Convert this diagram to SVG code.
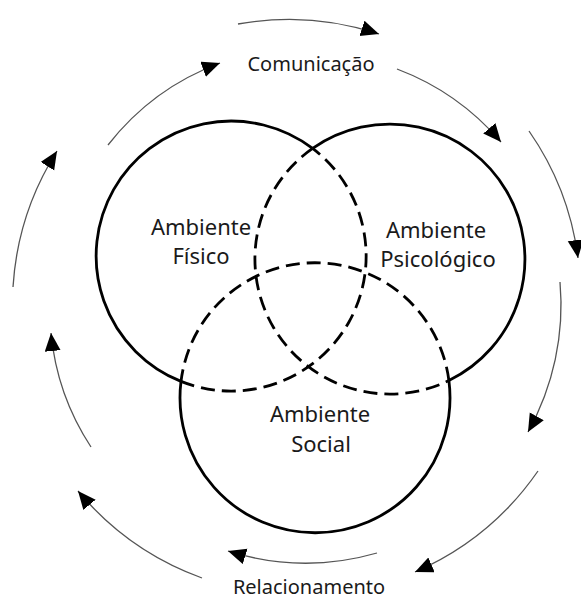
<svg xmlns="http://www.w3.org/2000/svg" width="581" height="599" viewBox="0 0 581 599">
<style>
.solid{fill:none;stroke:#000;stroke-width:2.8}
.dash{fill:none;stroke:#000;stroke-width:2.8;stroke-dasharray:14 7}
.lbl{font-family:"Noto Sans","Open Sans",sans-serif;font-size:22px;fill:#1a1a1a;text-anchor:middle}
.cap{font-family:"Noto Sans","Open Sans",sans-serif;font-size:20px;fill:#1a1a1a;text-anchor:middle}
.flow{fill:none;stroke:#555;stroke-width:1.3;marker-end:url(#ah)}
</style>
<defs>
<marker id="ah" markerUnits="userSpaceOnUse" markerWidth="20" markerHeight="18" refX="18" refY="8" orient="auto">
<path d="M0,0 L18,8 L0,16 z" fill="#000"/>
</marker>
</defs>
<rect width="581" height="599" fill="#fff"/>
<g id="connectors">
<path class="flow" d="M238,24 A285,285 0 0 1 379,34"/>
<path class="flow" d="M108,145 A254,254 0 0 1 220,63"/>
<path class="flow" d="M397,69 A256,256 0 0 1 501,142"/>
<path class="flow" d="M529,131 A286,286 0 0 1 578,258"/>
<path class="flow" d="M560,282 A261,261 0 0 1 528,432"/>
<path class="flow" d="M538,471 A290,290 0 0 1 415,572"/>
<path class="flow" d="M377,553 A258,258 0 0 1 228,551"/>
<path class="flow" d="M202,578 A290,290 0 0 1 78,491"/>
<path class="flow" d="M91,447 A251,251 0 0 1 51,333"/>
<path class="flow" d="M13,287 A288,288 0 0 1 57,151"/>
</g>
<g id="fisico">
<path class="solid" d="M312.6,148.4 A135,135 0 1 0 181,381.4"/>
<path class="dash" d="M181,381.4 A135,135 0 0 0 312.6,148.4"/>
<text class="lbl" x="201" y="235">Ambiente</text>
<text class="lbl" x="201" y="264">Físico</text>
</g>
<g id="psicologico">
<path class="solid" d="M448.9,380.5 A135,135 0 1 0 312.6,148.4"/>
<path class="dash" d="M312.6,148.4 A135,135 0 0 0 448.9,380.5"/>
<text class="lbl" x="436" y="238">Ambiente</text>
<text class="lbl" x="438" y="267">Psicológico</text>
</g>
<g id="social">
<path class="solid" d="M181,381.4 A135,135 0 1 0 448.9,380.5"/>
<path class="dash" d="M448.9,380.5 A135,135 0 0 0 181,381.4"/>
<text class="lbl" x="320" y="422">Ambiente</text>
<text class="lbl" x="321" y="452">Social</text>
</g>
<g id="comunicacao">
<text class="cap" x="311" y="71">Comunicação</text>
</g>
<g id="relacionamento">
<text class="cap" x="309" y="594">Relacionamento</text>
</g>
</svg>
